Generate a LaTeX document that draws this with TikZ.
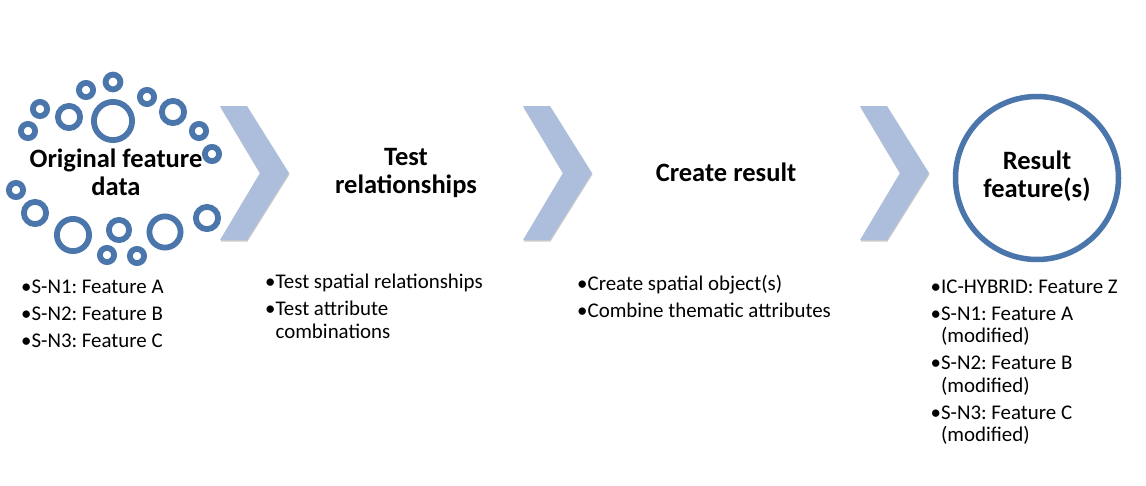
\documentclass[tikz,border=0pt]{standalone}
\usepackage{fontspec}
\setmainfont{Carlito}
\usetikzlibrary{shadows}
\definecolor{ringblue}{RGB}{74,118,172}
\definecolor{chevblue}{RGB}{172,190,220}
\newlength\bw
\newcommand\ttl[2]{\parbox[t]{#1}{\centering\fontsize{26.5}{28.5}\selectfont\bfseries #2}}
\newcommand\bitem[1]{\par\noindent\hangindent=\bw\hangafter=1\makebox[\bw][l]{\textbullet}#1\par}
\newcommand\bsp{\vspace{4.5pt}}
\newcommand\blst[1]{\parbox[t]{300pt}{\fontsize{20.9}{22.5}\selectfont\frenchspacing\parskip=0pt\settowidth\bw{\textbullet}#1}}
\tikzset{
  softshadow/.style={drop shadow={shadow xshift=0.5pt, shadow yshift=-1.5pt, opacity=0.2, fill=black}},
  ring/.style={draw=ringblue, line width=5.8pt, fill=white, softshadow},
  chevron/.style={fill=chevblue, draw=none, softshadow},
  bigring/.style={draw=ringblue, line width=5.5pt, fill=white, softshadow},
  titletext/.style={anchor=base, inner sep=0pt},
  blist/.style={anchor=base west, inner sep=0pt},
}
\begin{document}
\begin{tikzpicture}[x=1pt,y=-1pt]
\useasboundingbox (0,0) rectangle (1146,485);
\fill[white] (0,0) rectangle (1146,485);
% rings of the original data
\foreach \cx/\cy/\R in {113/82/10.3, 86/90/10, 147/97/10, 40/109/10, 69/117/14, 113/121/22,
  173/112/14, 28/131/10, 199/131/10, 212/154/10, 16/190/10, 35/213/14, 73/235/19,
  119/230/13, 165/232/18.5, 207/218/14, 107/255/10, 137/256/10}
  \draw[ring] (\cx,\cy) circle[radius=\R-2.9];
% chevrons
\foreach \x in {220,523,860}
  \fill[chevron] (\x,106) -- (\x+27,106) -- (\x+69,173) -- (\x+27,240) -- (\x,240) -- (\x+40,173) -- cycle;
% result circle
\draw[bigring] (1037,178) circle[radius=81.5];
% titles
\node[titletext] (orig) at (116,167) {\ttl{260pt}{Original feature\\data}};
\node[titletext] (test) at (406,165) {\ttl{220pt}{Test\\relationships}};
\node[titletext] (create) at (726,181.7) {\ttl{220pt}{Create result}};
\node[titletext] (result) at (1037,169) {\ttl{160pt}{Result\\feature(s)}};
% bullet lists
\node[blist] (l1) at (21,293.5) {\blst{\bitem{S-N1: Feature A}\bsp\bitem{S-N2: Feature B}\bsp\bitem{S-N3: Feature C}}};
\node[blist] (l2) at (265,288.5) {\blst{\bitem{Test spatial relationships}\bsp\bitem{Test attribute\newline combinations}}};
\node[blist] (l3) at (577,290) {\blst{\bitem{Create spatial object(s)}\bsp\bitem{Combine thematic attributes}}};
\node[blist] (l4) at (930.5,293) {\blst{\bitem{IC-HYBRID: Feature Z}\bsp\bitem{S-N1: Feature A\newline (modified)}\bsp\bitem{S-N2: Feature B\newline (modified)}\bsp\bitem{S-N3: Feature C\newline (modified)}}};
\end{tikzpicture}
\end{document}
